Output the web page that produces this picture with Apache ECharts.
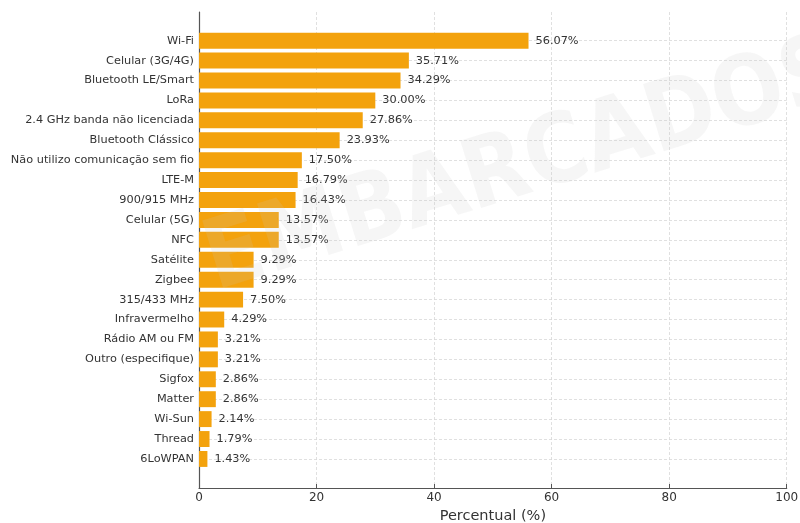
<!DOCTYPE html>
<html><head><meta charset="utf-8">
<script src="https://cdn.jsdelivr.net/npm/echarts@6/dist/echarts.min.js"></script>
<style>html,body{margin:0;padding:0;background:#fff}#c{width:800px;height:523px}</style>
</head><body><div id="c"></div>
<script>
const categories = ["Wi-Fi","Celular (3G/4G)","Bluetooth LE/Smart","LoRa","2.4 GHz banda não licenciada","Bluetooth Clássico","Não utilizo comunicação sem fio","LTE-M","900/915 MHz","Celular (5G)","NFC","Satélite","Zigbee","315/433 MHz","Infravermelho","Rádio AM ou FM","Outro (especifique)","Sigfox","Matter","Wi-Sun","Thread","6LoWPAN"];
const values = [56.07,35.71,34.29,30.00,27.86,23.93,17.50,16.79,16.43,13.57,13.57,9.29,9.29,7.50,4.29,3.21,3.21,2.86,2.86,2.14,1.79,1.43];
const xTicks = [0,20,40,60,80,100];
const xLabel = "Percentual (%)";
const watermark = "EMBARCADOS";

const FONT = "DejaVu Sans";
const chart = echarts.init(document.getElementById('c'));
chart.setOption({
  animation: false,
  textStyle: {fontFamily: FONT},
  graphic: [{
    type: 'text', z: 100, silent: true, x: 525, y: 168, rotation: 0.30, scaleY: 1.15,
    style: {text: watermark, font: 'bold 84px "DejaVu Sans"', fill: 'rgba(200,200,200,0.16)',
      align: 'center', verticalAlign: 'middle'}
  }],
  grid: [
    {left: 199, right: 13.3, top: 30.7, bottom: 54.1, outerBoundsMode: 'none', containLabel: false},
    {left: 199, right: 13.3, top: 12, bottom: 35, outerBoundsMode: 'none', containLabel: false}
  ],
  xAxis: [
    {gridIndex: 0, type: 'value', min: 0, max: 100, show: false},
    {gridIndex: 1, type: 'value', min: xTicks[0], max: xTicks[xTicks.length-1], interval: 20,
     axisLine: {show: true, lineStyle: {color: '#555', width: 1.2}},
     axisTick: {show: true, inside: true, length: 4, lineStyle: {color: '#555'}},
     axisLabel: {color: '#333', fontSize: 12, margin: 4, fontFamily: FONT},
     splitLine: {show: true, lineStyle: {color: '#d8d8d8', type: [3, 2], width: 0.8}},
     name: xLabel, nameLocation: 'middle', nameGap: 20,
     nameTextStyle: {color: '#333', fontSize: 14.5, fontFamily: FONT}}
  ],
  yAxis: [
    {gridIndex: 0, type: 'category', data: categories, inverse: true,
     axisLine: {show: false},
     axisTick: {show: true, inside: true, alignWithLabel: true, length: 4, lineStyle: {color: '#555'}},
     axisLabel: {color: '#333', fontSize: 11.3, margin: 5, fontFamily: FONT},
     splitLine: {show: false}},
    {gridIndex: 1, type: 'value', min: 0, max: 1,
     axisLine: {show: true, lineStyle: {color: '#555', width: 1.2}},
     axisTick: {show: false}, axisLabel: {show: false}, splitLine: {show: false}}
  ],
  series: [
    {type: 'line', xAxisIndex: 0, yAxisIndex: 0, data: [], z: 1, silent: true,
     markLine: {silent: true, z: 1, symbol: 'none', label: {show: false},
       lineStyle: {color: '#d8d8d8', type: [3, 2], width: 0.8},
       data: categories.map(c => ({yAxis: c}))}},
    {type: 'bar', xAxisIndex: 0, yAxisIndex: 0, data: values, z: 3,
     barWidth: '80%',
     itemStyle: {color: '#F3A20D'},
     label: {show: true, position: 'right', distance: 7, color: '#333', fontSize: 11.3, fontFamily: FONT,
       formatter: p => p.value.toFixed(2) + '%'}}
  ]
});
</script></body></html>
